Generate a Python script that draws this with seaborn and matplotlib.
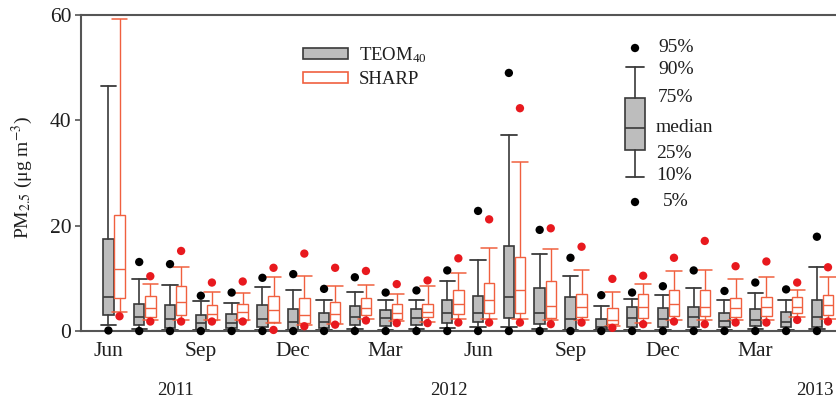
import numpy as np
import pandas as pd
import matplotlib
matplotlib.use("Agg")
import matplotlib.pyplot as plt
import matplotlib.transforms as mtransforms
from matplotlib.patches import Patch
import seaborn as sns

# ---------------- data ----------------
months = ["Jun 2011", "Jul 2011", "Aug 2011", "Sep 2011", "Oct 2011", "Nov 2011",
          "Dec 2011", "Jan 2012", "Feb 2012", "Mar 2012", "Apr 2012", "May 2012",
          "Jun 2012", "Jul 2012", "Aug 2012", "Sep 2012", "Oct 2012", "Nov 2012",
          "Dec 2012", "Jan 2013", "Feb 2013", "Mar 2013", "Apr 2013", "May 2013"]
tick_months = [0, 3, 6, 9, 12, 15, 18, 21]
tick_labels = ["Jun", "Sep", "Dec", "Mar", "Jun", "Sep", "Dec", "Mar"]
years = ["2011", "2012", "2013"]
year_pos = [2.0, 10.86, 22.77]

# TEOM40 percentiles (ug m-3); NaN = above the axis
teom_p5 = [0.1, 0.0, 0.0, 0.0, 0.0, 0.0, 0.0, 0.0, 0.0, 0.0, 0.0, 0.0,
           0.0, 0.0, 0.0, 0.0, 0.0, 0.0, 0.0, 0.0, 0.0, 0.0, 0.0, 0.0]
teom_p10 = [1.1, 0.3, 0.1, 0.1, 0.1, 0.2, 0.1, 0.2, 0.3, 0.2, 0.4, 0.5,
            0.7, 0.7, 0.3, 0.1, 0.1, 0.2, 0.2, 0.2, 0.2, 0.3, 0.2, 0.3]
teom_p25 = [3.0, 1.2, 0.6, 0.2, 0.5, 0.8, 0.2, 0.6, 1.1, 1.0, 1.2, 1.5,
            1.7, 2.4, 1.3, 0.2, 0.3, 0.8, 0.8, 0.8, 0.8, 1.0, 0.8, 0.8]
teom_p50 = [6.5, 2.7, 2.2, 1.5, 1.6, 2.2, 1.8, 1.8, 2.7, 2.5, 2.5, 3.5,
            3.4, 6.5, 3.4, 2.3, 0.8, 2.4, 2.3, 2.6, 1.9, 2.1, 1.8, 2.7]
teom_p75 = [17.4, 5.1, 4.9, 3.0, 3.2, 4.9, 4.2, 3.5, 4.7, 3.9, 4.2, 5.9,
            6.7, 16.1, 8.1, 6.5, 2.2, 4.5, 4.4, 4.6, 3.5, 4.2, 3.7, 5.8]
teom_p90 = [46.5, 9.9, 8.7, 5.7, 5.4, 8.4, 7.8, 5.9, 7.4, 5.8, 5.9, 9.4,
            13.5, 37.3, 14.6, 10.4, 4.7, 6.1, 6.9, 8.1, 5.8, 7.2, 5.9, 12.1]
teom_p95 = [np.nan, 13.1, 12.7, 6.7, 7.3, 10.1, 10.8, 8.0, 10.2, 7.3, 7.7, 11.5,
            22.8, 49.0, 19.2, 13.9, 6.8, 7.3, 8.5, 11.5, 7.6, 9.2, 7.9, 17.9]

# SHARP percentiles (ug m-3)
sharp_p5 = [2.8, 1.8, 1.8, 1.8, 1.8, 0.2, 0.9, 1.2, 2.0, 1.5, 1.5, 1.6,
            1.6, 1.6, 1.3, 1.6, 0.6, 1.3, 1.8, 1.3, 1.6, 1.6, 2.1, 1.8]
sharp_p10 = [3.7, 2.1, 2.1, 2.0, 2.0, 1.5, 1.1, 1.4, 2.3, 1.9, 1.8, 2.2,
             2.2, 2.3, 2.0, 2.1, 0.9, 1.6, 2.0, 2.0, 2.0, 2.0, 2.6, 2.2]
sharp_p25 = [6.2, 2.6, 3.0, 2.0, 2.1, 1.8, 1.5, 1.5, 3.0, 2.3, 2.7, 3.2,
             3.4, 3.4, 2.5, 2.7, 1.3, 2.4, 2.8, 2.8, 2.7, 2.8, 3.4, 3.0]
sharp_p50 = [11.8, 4.4, 5.6, 3.2, 3.7, 4.0, 3.0, 3.2, 4.4, 3.5, 3.7, 5.2,
             5.9, 7.7, 4.7, 4.5, 2.1, 4.5, 5.1, 4.5, 4.3, 4.5, 4.5, 4.9]
sharp_p75 = [22.0, 6.7, 8.5, 5.0, 5.2, 6.7, 6.3, 5.6, 6.3, 5.2, 5.2, 7.7,
             9.2, 14.1, 9.4, 7.0, 4.3, 7.0, 7.8, 7.7, 6.2, 6.4, 6.4, 6.8]
sharp_p90 = [59.2, 8.9, 12.2, 7.4, 7.3, 10.3, 10.4, 8.6, 8.7, 7.0, 8.5, 11.1,
             15.8, 32.0, 15.5, 11.6, 7.5, 9.0, 11.3, 11.5, 9.9, 10.2, 7.8, 10.3]
sharp_p95 = [np.nan, 10.4, 15.2, 9.2, 9.4, 12.0, 14.7, 12.0, 11.4, 8.9, 9.6, 13.8,
             21.2, 42.3, 19.5, 16.0, 9.9, 10.5, 13.9, 17.1, 12.3, 13.2, 9.2, 12.1]

# key (legend of percentiles)
key_labels = ["95%", "90%", "75%", "median", "25%", "10%", "5%"]

# ---------------- style ----------------
sns.set_theme(style="ticks")
plt.rcParams["font.family"] = ["Liberation Serif", "DejaVu Serif"]
plt.rcParams["mathtext.fontset"] = "stix"

TEOM_FACE = "#bdbdbd"
TEOM_EDGE = "#3a3a3a"
SHARP_EDGE = "#f0603f"
SHARP_DOT = "#e8191e"
TXT = "#1e1e1e"

W, H = 836, 405
fig = plt.figure(figsize=(W / 100, H / 100), dpi=100)
fig.patch.set_facecolor("white")
ax = fig.add_axes([81 / W, 74 / H, 755 / W, 316 / H])
ax.set_facecolor("white")

n = len(months)
pos = np.arange(n)
off = 0.18


def make_stats(p10, p25, p50, p75, p90):
    return [dict(whislo=a, q1=b, med=c, q3=d, whishi=e, fliers=[])
            for a, b, c, d, e in zip(p10, p25, p50, p75, p90)]


common = dict(widths=0.34, capwidths=0.5, patch_artist=True, showfliers=False,
              manage_ticks=False)
ax.bxp(make_stats(teom_p10, teom_p25, teom_p50, teom_p75, teom_p90),
       positions=pos - off,
       boxprops=dict(facecolor=TEOM_FACE, edgecolor=TEOM_EDGE, linewidth=1.2),
       medianprops=dict(color=TEOM_EDGE, linewidth=1.2),
       whiskerprops=dict(color=TEOM_EDGE, linewidth=1.2),
       capprops=dict(color=TEOM_EDGE, linewidth=1.3), **common)
ax.bxp(make_stats(sharp_p10, sharp_p25, sharp_p50, sharp_p75, sharp_p90),
       positions=pos + off,
       boxprops=dict(facecolor="white", edgecolor=SHARP_EDGE, linewidth=1.0),
       medianprops=dict(color=SHARP_EDGE, linewidth=1.0),
       whiskerprops=dict(color=SHARP_EDGE, linewidth=1.0),
       capprops=dict(color=SHARP_EDGE, linewidth=1.1), **common)

# 5th / 95th percentile dots
dots = pd.DataFrame({
    "x": np.concatenate([pos - off, pos - off, pos + off, pos + off]),
    "value": np.concatenate([teom_p5, teom_p95, sharp_p5, sharp_p95]),
    "series": ["TEOM"] * (2 * n) + ["SHARP"] * (2 * n),
})
sns.scatterplot(data=dots, x="x", y="value", hue="series",
                palette={"TEOM": "black", "SHARP": SHARP_DOT},
                s=36, edgecolor="none", legend=False, ax=ax, clip_on=False, zorder=4)

ax.set_xlim(-1.07, 23.44)
ax.set_ylim(0, 60)
ax.set_yticks([0, 20, 40, 60])
ax.set_xticks(pos[tick_months] - off)
ax.set_xticklabels(tick_labels)
ax.set_xlabel("")
ax.set_ylabel("PM$_{2.5}$ (μg m$^{-3}$)", fontsize=14, color=TXT)
ax.yaxis.set_label_coords((35 - 81) / 755, 0.487)

ax.tick_params(axis="y", direction="out", length=4, width=1.2, color="#555555",
               labelsize=15.5, pad=3, labelcolor=TXT)
ax.tick_params(axis="x", length=0, labelsize=15.5, pad=8, labelcolor=TXT)
for side in ["left", "bottom", "top"]:
    ax.spines[side].set_color("#555555")
    ax.spines[side].set_linewidth(1.5)
ax.spines["right"].set_visible(False)

trans = mtransforms.blended_transform_factory(ax.transData, ax.transAxes)
for yl, xp in zip(years, year_pos):
    ax.text(xp, -0.187, yl, transform=trans, ha="center", va="center",
            fontsize=13.5, color=TXT)

# series legend
handles = [Patch(facecolor=TEOM_FACE, edgecolor=TEOM_EDGE, linewidth=1.2,
                 label="TEOM$_{\\mathregular{40}}$"),
           Patch(facecolor="white", edgecolor=SHARP_EDGE, linewidth=1.2, label="SHARP")]
leg = ax.legend(handles=handles, loc="upper left", bbox_to_anchor=(0.294, 0.905),
                frameon=False, fontsize=13.5, handlelength=2.4, handleheight=0.55,
                handletextpad=0.6, labelspacing=0.35, borderpad=0, borderaxespad=0)
for t in leg.get_texts():
    t.set_color(TXT)

# percentile key (own small axes in pixel units)
kx0, kx1, ky0, ky1 = 600, 660, 35, 215
kax = fig.add_axes([kx0 / W, (H - ky1) / H, (kx1 - kx0) / W, (ky1 - ky0) / H])
kax.set_xlim(kx0, kx1)
kax.set_ylim(ky1, ky0)
kax.axis("off")
key_stats = [dict(whislo=177, q1=150, med=128, q3=98, whishi=67, fliers=[])]
kax.bxp(key_stats, positions=[635], widths=20, capwidths=18, patch_artist=True,
        showfliers=False, manage_ticks=False,
        boxprops=dict(facecolor=TEOM_FACE, edgecolor=TEOM_EDGE, linewidth=1.2),
        medianprops=dict(color=TEOM_EDGE, linewidth=1.2),
        whiskerprops=dict(color=TEOM_EDGE, linewidth=1.2),
        capprops=dict(color=TEOM_EDGE, linewidth=1.3))
kax.scatter([635, 635], [48, 202], s=36, color="black", edgecolor="none",
            clip_on=False, zorder=4)
key_y = [48, 70, 98, 127, 154, 176, 202]
key_x = [658, 658, 658, 656, 656, 656, 663]
for lab, xx, yy in zip(key_labels, key_x, key_y):
    kax.text(xx, yy, lab, ha="left", va="center", fontsize=14, color=TXT,
             clip_on=False)

fig.savefig("out.png", dpi=100, facecolor="white")
